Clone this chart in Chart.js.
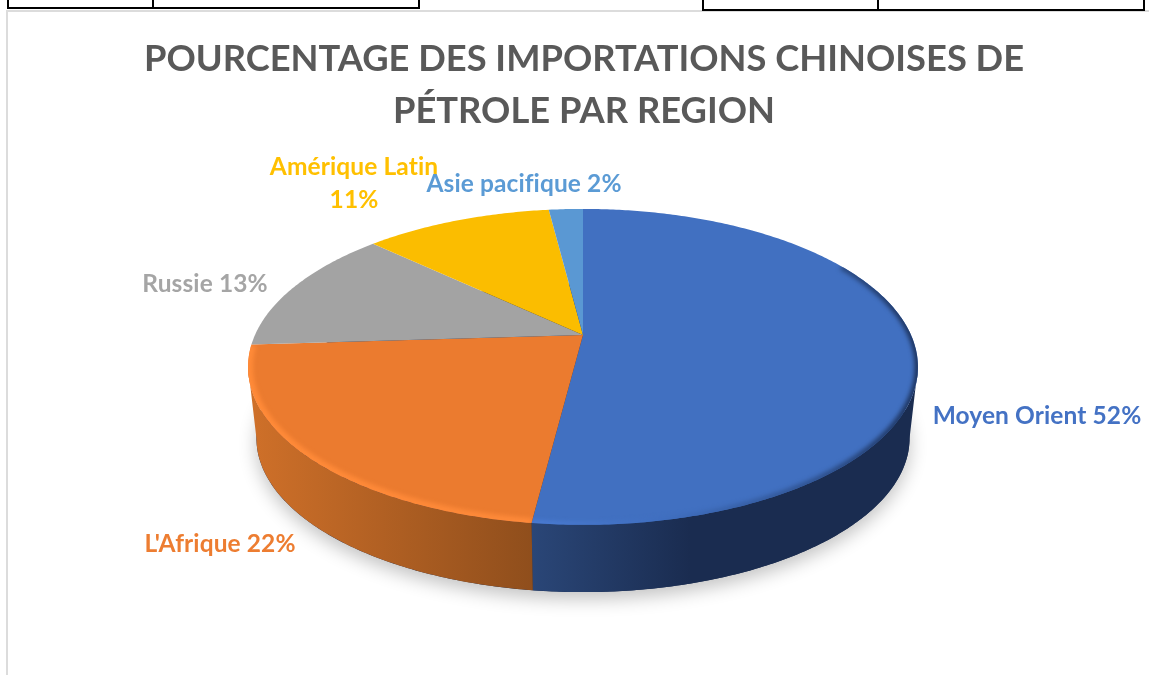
<!DOCTYPE html>
<html>
<head>
<meta charset="utf-8">
<title>Importations chinoises de pétrole</title>
<script src="https://cdn.jsdelivr.net/npm/chart.js@4/dist/chart.umd.min.js"></script>
<style>
  html, body { margin: 0; padding: 0; background: #fff; overflow: hidden; width: 1149px; height: 675px; }
  #healthWrap { position: relative; width: 1149px; height: 675px; overflow: hidden; }
  canvas { position: absolute; left: 0; top: 0; }
  .ln { position: absolute; }
</style>
</head>
<body>
<div id="healthWrap">
  <canvas id="pieChart" width="1168" height="675"></canvas>
  <!-- bits of the page around the chart -->
  <div class="ln" style="left:6px;top:10px;width:1143px;height:2px;background:#dcdcdc"></div>
  <div class="ln" style="left:6px;top:10px;width:2px;height:665px;background:#dcdcdc"></div>
  <div class="ln" style="left:7px;top:0;width:2px;height:8px;background:#000"></div>
  <div class="ln" style="left:152px;top:0;width:2px;height:8px;background:#000"></div>
  <div class="ln" style="left:418px;top:0;width:2px;height:9px;background:#000"></div>
  <div class="ln" style="left:7px;top:7px;width:413px;height:2px;background:#000"></div>
  <div class="ln" style="left:702px;top:0;width:2px;height:10px;background:#000"></div>
  <div class="ln" style="left:877px;top:0;width:2px;height:10px;background:#000"></div>
  <div class="ln" style="left:1143px;top:0;width:2px;height:10px;background:#000"></div>
  <div class="ln" style="left:702px;top:9px;width:443px;height:2px;background:#000"></div>
</div>
<script>
// Data
const categories = ["Moyen Orient", "L'Afrique", "Russie", "Amérique Latin", "Asie pacifique"];
const shares = [52, 22, 13, 11, 2];
const titleLines = ["POURCENTAGE DES IMPORTATIONS CHINOISES DE", "PÉTROLE PAR REGION"];

const sliceColors = ["#4170C1", "#EB7B2F", "#A3A3A3", "#FBBD00", "#5A98D3"];
const labelColors = ["#4472C4", "#ED7D31", "#A5A5A5", "#FFC000", "#5B9BD5"];

// label centre x, y (second line for the one that wraps)
const labelPlaces = [[1037, 416], [220, 544], [205, 284], [354, 167], [524, 184]];

// Perspective of the tilted disc
const RX = 328, RY = 151.5, TILT = 0.2024, SHIFT_X = -1;
const BOTTOM_SCALE = 0.975, BOTTOM_DROP = 72;
const WALL_FROM = 101.7 * Math.PI / 180, WALL_TO = 258.3 * Math.PI / 180;

const project = (cx, cy, t, a = RX, b = RY) => {
  const v = Math.cos(t), d = 1 + TILT * v;
  return [cx + a * Math.sin(t) / d, cy - b * v / d];
};

const traceRim = (ctx, cx, cy, t1, t2, a, b, jump) => {
  const n = Math.max(2, Math.ceil(Math.abs(t2 - t1) * 90));
  for (let i = 0; i <= n; i++) {
    const p = project(cx, cy, t1 + (t2 - t1) * i / n, a, b);
    if (i === 0 && jump) ctx.moveTo(p[0], p[1]);
    else ctx.lineTo(p[0], p[1]);
  }
};

const bottomRim = (ctx, cx, cy, t1, t2, jump) =>
  traceRim(ctx, cx, cy + BOTTOM_DROP, t1, t2, RX * BOTTOM_SCALE, RY * BOTTOM_SCALE, jump);

const wallFills = (ctx, i) => {
  const g = ctx.createLinearGradient(250, 0, 917, 0);
  if (i === 0) {
    g.addColorStop(0.425, "#2A4677");
    g.addColorStop(0.66, "#1A2C50");
    g.addColorStop(1, "#1A2C50");
  } else {
    g.addColorStop(0, "#CF7029");
    g.addColorStop(0.425, "#8F4E1C");
  }
  return g;
};

const rimFills = (ctx, i) => {
  const g = ctx.createLinearGradient(250, 0, 917, 0);
  if (i === 0) {
    g.addColorStop(0.42, "#4A7BD2");
    g.addColorStop(0.62, "#3F6EBF");
    g.addColorStop(0.85, "#2F528F");
    g.addColorStop(1, "#1E3560");
  } else {
    g.addColorStop(0, "#FF8A38");
    g.addColorStop(1, "#FA873A");
  }
  return g;
};

// The disc is drawn here from the arc elements the pie controller laid out
const discPlugin = {
  id: "disc3d",
  beforeDatasetsDraw(chart) {
    const ctx = chart.ctx;
    const arcs = chart.getDatasetMeta(0).data;
    const cx = arcs[0].x + SHIFT_X, cy = arcs[0].y;
    const angle = (a) => a + Math.PI / 2;

    // soft shadow under the disc
    ctx.save();
    ctx.shadowColor = "rgba(0,0,0,0.24)";
    ctx.shadowBlur = 18;
    ctx.shadowOffsetY = 7;
    ctx.fillStyle = "#1A2C50";
    ctx.beginPath();
    bottomRim(ctx, cx, cy, 0, Math.PI * 2, true);
    ctx.closePath();
    ctx.fill();
    ctx.restore();

    // walls
    arcs.forEach((arc, i) => {
      const t1 = Math.max(angle(arc.startAngle), WALL_FROM);
      const t2 = Math.min(angle(arc.endAngle), WALL_TO);
      if (t2 <= t1) return;
      ctx.beginPath();
      traceRim(ctx, cx, cy, t1, t2, RX, RY, true);
      bottomRim(ctx, cx, cy, t2, t1, false);
      ctx.closePath();
      ctx.fillStyle = wallFills(ctx, i);
      ctx.fill();
    });

    // top face with its bevel
    arcs.forEach((arc, i) => {
      const t1 = angle(arc.startAngle), t2 = angle(arc.endAngle);
      ctx.save();
      ctx.beginPath();
      ctx.moveTo(cx, cy);
      traceRim(ctx, cx, cy, t1, t2, RX, RY, false);
      ctx.closePath();
      ctx.fillStyle = sliceColors[i];
      ctx.fill();
      if (i < 2) {
        ctx.clip();
        ctx.beginPath();
        const from = i === 0 ? 1.05 : t1;
        traceRim(ctx, cx, cy, from, t2, RX, RY, true);
        ctx.strokeStyle = rimFills(ctx, i);
        ctx.lineWidth = i === 0 ? 7 : 10;
        ctx.filter = "blur(2px)";
        ctx.stroke();
      }
      ctx.restore();
    });
    return false;
  },
  afterDraw(chart) {
    const ctx = chart.ctx;
    ctx.save();
    ctx.font = "bold 24.5px Lato";
    ctx.letterSpacing = "0.1px"; // keeps "fi" from joining up
    ctx.textAlign = "center";
    ctx.textBaseline = "middle";
    categories.forEach((name, i) => {
      const [x, y] = labelPlaces[i];
      ctx.fillStyle = labelColors[i];
      if (name === "Amérique Latin") {
        ctx.fillText(name, x, y);
        ctx.fillText(shares[i] + "%", x, y + 33);
      } else {
        ctx.fillText(name + " " + shares[i] + "%", x, y);
      }
    });
    ctx.restore();
  }
};

new Chart(document.getElementById("pieChart"), {
  type: "pie",
  data: {
    labels: categories,
    datasets: [{ data: shares, backgroundColor: sliceColors, borderWidth: 0 }]
  },
  options: {
    responsive: false,
    animation: false,
    layout: { padding: { top: 33, bottom: 146 } },
    plugins: {
      legend: { display: false },
      tooltip: { enabled: false },
      title: {
        display: true,
        text: titleLines,
        color: "#595959",
        font: { family: "Lato", size: 36.3, weight: "bold", lineHeight: 1.43 },
        padding: { top: 0, bottom: 4 }
      }
    }
  },
  plugins: [discPlugin]
});
</script>
</body>
</html>
